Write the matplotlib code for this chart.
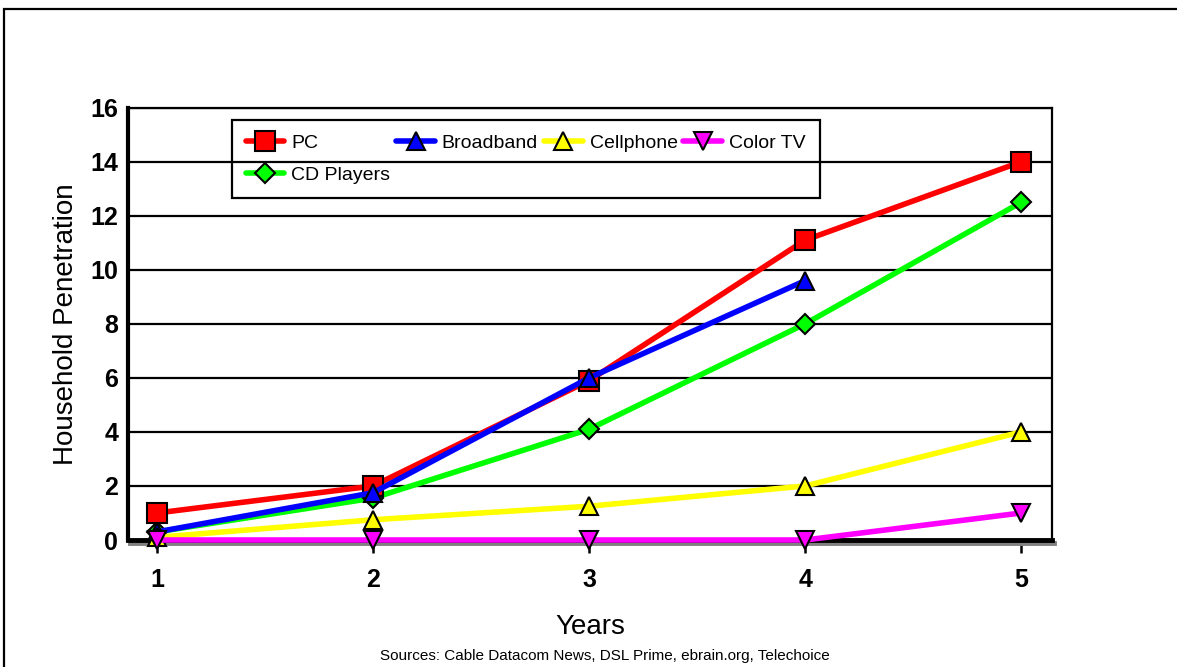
import matplotlib.pyplot as plt
import matplotlib.patheffects as pe
from matplotlib.patches import Rectangle
import numpy as np

plt.rcParams['font.family'] = ['Liberation Sans', 'DejaVu Sans']

years = [1, 2, 3, 4, 5]
pc = [1.0, 2.0, 5.9, 11.1, 14.0]
broadband = [0.3, 1.75, 6.0, 9.6, np.nan]
cellphone = [0.1, 0.75, 1.25, 2.0, 4.0]
color_tv = [0.0, 0.0, 0.0, 0.0, 1.0]
cd_players = [0.3, 1.55, 4.1, 8.0, 12.5]

fig = plt.figure(figsize=(11.77, 6.67), dpi=100)
ax = fig.add_axes([0.1088, 0.1904, 0.785, 0.648])

# outer frame round the slide
fig.patches.append(Rectangle((4 / 1177, -0.05), 1.2, 0.05 + (667 - 9) / 667,
                             transform=fig.transFigure, fill=False,
                             edgecolor='black', linewidth=1.6))

lw = 4.0
kw = dict(linewidth=lw, markeredgecolor='black', markeredgewidth=1.5,
          solid_capstyle='round', clip_on=False)
l_cd, = ax.plot(years, cd_players, color='#00ff00', marker='D', markersize=10,
                label='CD Players', zorder=3, **kw)
l_pc, = ax.plot(years, pc, color='#ff0000', marker='s', markersize=14,
                label='PC', zorder=4, **kw)
l_bb, = ax.plot(years, broadband, color='#0000ff', marker='^', markersize=13,
                label='Broadband', zorder=5, **kw)
l_cell, = ax.plot(years, cellphone, color='#ffff00', marker='^', markersize=13,
                  label='Cellphone', zorder=6, **kw)
l_tv, = ax.plot(years, color_tv, color='#ff00ff', marker='v', markersize=13,
                label='Color TV', zorder=7, **kw)

ax.set_xlim(0.866, 5.143)
ax.set_ylim(0, 16)
ax.set_xticks(years)
ax.set_yticks(range(0, 17, 2))
ax.yaxis.grid(True, color='black', linewidth=1.6)
ax.set_axisbelow(True)
ax.tick_params(axis='y', length=0, pad=7, labelsize=18)
ax.tick_params(axis='x', length=9, width=1.8, direction='out', pad=11, labelsize=18)
for lab in ax.get_xticklabels() + ax.get_yticklabels():
    lab.set_fontweight('bold')

for side in ('top', 'right'):
    ax.spines[side].set_linewidth(1.6)
ax.spines['left'].set_linewidth(3)
ax.spines['bottom'].set_linewidth(3.5)
ax.spines['bottom'].set_zorder(2.5)
ax.spines['bottom'].set_path_effects([
    pe.SimpleLineShadow(offset=(1.5, -2.5), shadow_color='gray', alpha=1),
    pe.Normal()])

ax.set_ylabel('Household Penetration', fontsize=20, labelpad=8)
ax.set_xlabel('Years', fontsize=20, labelpad=16)

leg = ax.legend([l_pc, l_cd, l_bb, l_cell, l_tv],
                ['PC', 'CD Players', 'Broadband', 'Cellphone', 'Color TV'],
                ncol=4, loc='upper left', bbox_to_anchor=(0.112, 0.972),
                borderaxespad=0, fontsize=14, frameon=True, fancybox=False,
                edgecolor='black', handlelength=2.0, handletextpad=0.35,
                columnspacing=0.3, borderpad=0.72, labelspacing=0.75)
frame = leg.get_frame()
frame.set_facecolor('none')
frame.set_alpha(None)
frame.set_linewidth(1.6)
leg.set_zorder(1)

fig.text(0.514, 0.006, 'Sources: Cable Datacom News, DSL Prime, ebrain.org, Telechoice',
         ha='center', va='bottom', fontsize=11)

fig.savefig('out.png', dpi=100)
